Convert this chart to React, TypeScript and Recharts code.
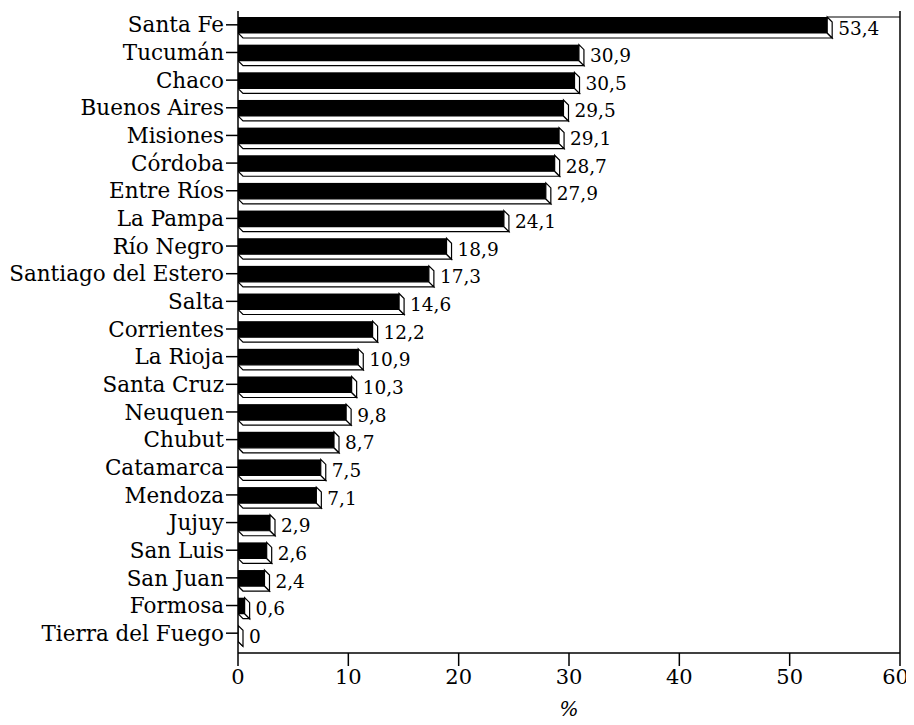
import React from "react";
import {
  BarChart,
  Bar,
  XAxis,
  YAxis,
  LabelList,
  ReferenceLine,
} from "recharts";

const provinces = [
  "Santa Fe",
  "Tucumán",
  "Chaco",
  "Buenos Aires",
  "Misiones",
  "Córdoba",
  "Entre Ríos",
  "La Pampa",
  "Río Negro",
  "Santiago del Estero",
  "Salta",
  "Corrientes",
  "La Rioja",
  "Santa Cruz",
  "Neuquen",
  "Chubut",
  "Catamarca",
  "Mendoza",
  "Jujuy",
  "San Luis",
  "San Juan",
  "Formosa",
  "Tierra del Fuego",
];

const shares = [
  53.4, 30.9, 30.5, 29.5, 29.1, 28.7, 27.9, 24.1, 18.9, 17.3, 14.6, 12.2, 10.9,
  10.3, 9.8, 8.7, 7.5, 7.1, 2.9, 2.6, 2.4, 0.6, 0,
];

const xTicks = [0, 10, 20, 30, 40, 50, 60];

const data = provinces.map((province, i) => ({ province, value: shares[i] }));

const FONT = "'DejaVu Serif', 'Liberation Serif', serif";
const DEPTH = 5;

// black front face plus a white bottom face and end cap, like the printed 3D bars
const Bar3D = (props: any) => {
  const { x, y, width, height, index, background } = props;
  const x1 = x + width;
  const yb = y + height;
  return (
    <g>
      {index === 0 && background && (
        <line
          x1={x1}
          y1={y}
          x2={background.x + background.width}
          y2={y}
          stroke="#000"
          strokeWidth={1.2}
        />
      )}
      <polygon
        points={`${x},${yb} ${x1},${yb} ${x1 + DEPTH},${yb + DEPTH} ${x + DEPTH},${yb + DEPTH}`}
        fill="#fff"
        stroke="#000"
        strokeWidth={1.2}
      />
      <polygon
        points={`${x1},${y} ${x1 + DEPTH},${y + DEPTH} ${x1 + DEPTH},${yb + DEPTH} ${x1},${yb}`}
        fill="#fff"
        stroke="#000"
        strokeWidth={1.2}
      />
      {width > 0 && <rect x={x} y={y} width={width} height={height} fill="#000" />}
    </g>
  );
};

const ValueLabel = (props: any) => {
  const { x, y, width, height, value } = props;
  return (
    <text
      x={x + width + DEPTH + 6}
      y={y + height / 2 + 3}
      dominantBaseline="central"
      fontFamily={FONT}
      fontSize={18.5}
      fill="#000"
    >
      {String(value).replace(".", ",")}
    </text>
  );
};

export default function App() {
  return (
    <div style={{ width: 898, height: 709, background: "#fff" }}>
      <style>
        {"body { overflow: hidden; } .recharts-surface { overflow: visible; }"}
      </style>
      <BarChart
        width={898}
        height={709}
        data={data}
        layout="vertical"
        margin={{ top: 3, right: 6, bottom: 0, left: 0 }}
        barCategoryGap={0}
      >
        <XAxis
          type="number"
          domain={[0, 60]}
          ticks={xTicks}
          allowDataOverflow
          axisLine={{ stroke: "#000", strokeWidth: 1.5 }}
          tickLine={{ stroke: "#000", strokeWidth: 1.5 }}
          tickSize={13}
          tickMargin={3}
          height={64}
          tick={{ fill: "#000", fontSize: 21, fontFamily: FONT }}
          label={{
            value: "%",
            position: "insideBottom",
            offset: 1,
            fill: "#000",
            fontSize: 20,
            fontFamily: FONT,
            fontStyle: "italic",
          }}
        />
        <YAxis
          type="category"
          dataKey="province"
          width={230}
          interval={0}
          padding={{ top: 0, bottom: 6 }}
          axisLine={{ stroke: "#000", strokeWidth: 1.5 }}
          tickLine={{ stroke: "#000", strokeWidth: 1.5 }}
          tickSize={12}
          tickMargin={2}
          tick={{ fill: "#000", fontSize: 21.5, fontFamily: FONT }}
        />
        <ReferenceLine x={60} stroke="#000" strokeWidth={1.5} />
        <Bar
          dataKey="value"
          barSize={16}
          shape={<Bar3D />}
          isAnimationActive={false}
        >
          <LabelList dataKey="value" content={<ValueLabel />} />
        </Bar>
      </BarChart>
    </div>
  );
}
